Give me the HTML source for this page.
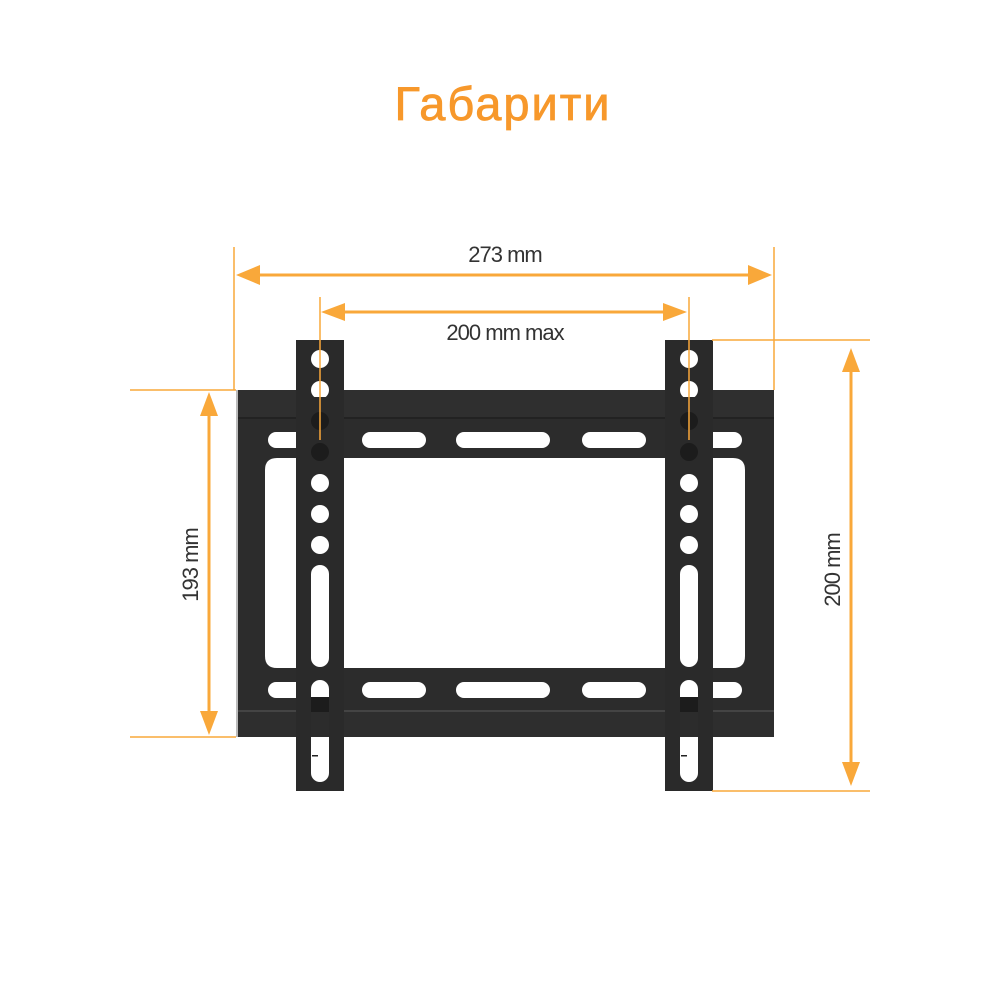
<!DOCTYPE html>
<html><head><meta charset="utf-8"><style>
html,body{margin:0;padding:0;background:#fff;}
svg{display:block}
text{font-family:"Liberation Sans",sans-serif;}
</style></head><body>
<svg width="1000" height="1000" viewBox="0 0 1000 1000" xmlns="http://www.w3.org/2000/svg">
<text x="503" y="120" text-anchor="middle" font-size="47" fill="#f7982b" stroke="#f7982b" stroke-width="0.8" letter-spacing="2">Габарити</text>

<!-- frame -->
<path fill-rule="evenodd" fill="#2c2c2c" d="M236 390 H774 V737 H236 Z M277 458 H733 Q745 458 745 470 V656 Q745 668 733 668 H277 Q265 668 265 656 V470 Q265 458 277 458 Z"/>
<rect x="236" y="390" width="538" height="27" fill="#2f2f2f"/>
<rect x="236" y="417" width="538" height="2" fill="#222"/>
<rect x="236" y="710" width="538" height="2" fill="#444"/>
<rect x="236" y="712" width="538" height="25" fill="#2e2e2e"/>
<rect x="236" y="390" width="2" height="347" fill="#bbb"/>
<g fill="#fff">
<rect x="268" y="432" width="40" height="16" rx="8"/>
<rect x="362" y="432" width="64" height="16" rx="8"/>
<rect x="456" y="432" width="94" height="16" rx="8"/>
<rect x="582" y="432" width="64" height="16" rx="8"/>
<rect x="702" y="432" width="40" height="16" rx="8"/>
<rect x="268" y="682" width="40" height="16" rx="8"/>
<rect x="362" y="682" width="64" height="16" rx="8"/>
<rect x="456" y="682" width="94" height="16" rx="8"/>
<rect x="582" y="682" width="64" height="16" rx="8"/>
<rect x="702" y="682" width="40" height="16" rx="8"/>
</g>

<!-- strips -->
<g id="s">
<rect x="296" y="340" width="48" height="451" fill="#2a2a2a"/>
<g fill="#fff">
<circle cx="320" cy="359" r="9"/>
<circle cx="320" cy="390" r="9"/>
<circle cx="320" cy="483" r="9"/>
<circle cx="320" cy="514" r="9"/>
<circle cx="320" cy="545" r="9"/>
<rect x="311" y="565" width="18" height="102" rx="9"/>
<rect x="311" y="680" width="18" height="102" rx="9"/>
</g>
<rect x="311" y="397" width="18" height="20" fill="#2a2a2a"/>
<circle cx="320" cy="421" r="9" fill="#1c1c1c"/>
<circle cx="320" cy="452" r="9" fill="#1c1c1c"/>
<rect x="311" y="697" width="18" height="15" fill="#1c1c1c"/>
<rect x="311" y="712" width="18" height="25" fill="#2c2c2c"/>
<rect x="312" y="755" width="6" height="1.5" fill="#222"/>
</g>
<use href="#s" x="369"/>

<!-- dimensions -->
<g stroke="#f9a83a" fill="none">
<line x1="234" y1="247" x2="234" y2="390" stroke-width="1.5"/>
<line x1="774" y1="247" x2="774" y2="390" stroke-width="1.5"/>
<line x1="320" y1="297" x2="320" y2="440" stroke-width="1.5"/>
<line x1="689" y1="297" x2="689" y2="440" stroke-width="1.5"/>
<line x1="130" y1="390" x2="236" y2="390" stroke-width="1.5"/>
<line x1="130" y1="737" x2="236" y2="737" stroke-width="1.5"/>
<line x1="712" y1="340" x2="870" y2="340" stroke-width="1.5"/>
<line x1="712" y1="791" x2="870" y2="791" stroke-width="1.5"/>
<line x1="255" y1="275" x2="752" y2="275" stroke-width="3"/>
<line x1="342" y1="312" x2="667" y2="312" stroke-width="3"/>
<line x1="209" y1="412" x2="209" y2="714" stroke-width="3"/>
<line x1="851" y1="368" x2="851" y2="764" stroke-width="3"/>
</g>
<g fill="#f9a83a">
<path d="M236 275 L260 265 L260 285 Z"/>
<path d="M772 275 L748 265 L748 285 Z"/>
<path d="M321 312 L345 303 L345 321 Z"/>
<path d="M687 312 L663 303 L663 321 Z"/>
<path d="M209 392 L200 416 L218 416 Z"/>
<path d="M209 735 L200 711 L218 711 Z"/>
<path d="M851 348 L842 372 L860 372 Z"/>
<path d="M851 786 L842 762 L860 762 Z"/>
</g>
<g fill="#333" font-size="22" letter-spacing="-1">
<text x="505" y="262" text-anchor="middle">273 mm</text>
<text x="505" y="340" text-anchor="middle">200 mm max</text>
<text transform="translate(198,565) rotate(-90)" text-anchor="middle">193 mm</text>
<text transform="translate(840,570) rotate(-90)" text-anchor="middle">200 mm</text>
</g>
</svg>
</body></html>
